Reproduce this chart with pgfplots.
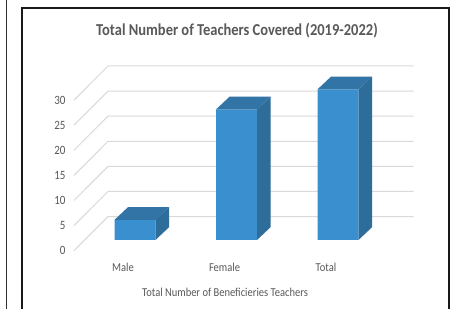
\documentclass[border=0pt]{standalone}
\usepackage{fontspec}
\setmainfont{Carlito}
\usepackage{graphicx}
\usepackage{pgfplots}
\pgfplotsset{compat=1.18}
\usepackage{pgfplotstable}
\definecolor{barfront}{HTML}{3A8FCF}
\definecolor{bartop}{HTML}{3274A6}
\definecolor{barside}{HTML}{2E6C9A}
\definecolor{gridc}{HTML}{D9D9D9}
\definecolor{txt}{HTML}{595959}
\newcommand\vs[1]{\scalebox{1}[1.15]{#1}}

\pgfplotstableread{
idx v
0 4
1 26
2 30
}\teachers

\pgfdeclareplotmark{cube3d}{%
  \pgfmathsetlengthmacro\barh{-\barv*5.02pt}%
  \pgfmathsetlengthmacro\barhb{12.7pt-\barv*5.02pt}%
  \pgfsetfillcolor{bartop}%
  \pgfpathmoveto{\pgfpoint{-20.5pt}{0pt}}%
  \pgfpathlineto{\pgfpoint{20.5pt}{0pt}}%
  \pgfpathlineto{\pgfpoint{34pt}{12.7pt}}%
  \pgfpathlineto{\pgfpoint{-7pt}{12.7pt}}%
  \pgfpathclose
  \pgfusepath{fill}%
  \pgfsetfillcolor{barside}%
  \pgfpathmoveto{\pgfpoint{20.5pt}{0pt}}%
  \pgfpathlineto{\pgfpoint{34pt}{12.7pt}}%
  \pgfpathlineto{\pgfpoint{34pt}{\barhb}}%
  \pgfpathlineto{\pgfpoint{20.5pt}{\barh}}%
  \pgfpathclose
  \pgfusepath{fill}%
}

\begin{document}
\begin{tikzpicture}
\clip (0pt,0pt) rectangle (455pt,308pt);
\useasboundingbox (0pt,0pt) rectangle (455pt,308pt);
\fill[white] (0pt,0pt) rectangle (455pt,308pt);
\draw[line width=1.5pt, black!80] (6.5pt,-3pt) -- (6.5pt,312pt);
\draw[line width=2pt, black!90] (22pt,-3pt) -- (22pt,300pt) -- (449pt,300pt) -- (449pt,-3pt);
\begin{axis}[
  at={(74pt,57.3pt)}, anchor=south west,
  x=101.5pt, y=5.02pt,
  xmin=-0.601, xmax=2.746, ymin=-2.14, ymax=34.66,
  clip=false,
  axis line style={draw=none},
  major tick length=0pt,
  tick style={draw=none},
  ytick={-2.14,2.86,7.86,12.86,17.86,22.86,27.86},
  yticklabels={\vs{0},\vs{5},\vs{10},\vs{15},\vs{20},\vs{25},\vs{30}},
  yticklabel style={font=\fontsize{11}{13}\selectfont, text=txt, xshift=-5pt},
  xtick={0,1,2},
  xticklabels={\vs{Male},\vs{Female},\vs{Total}},
  xticklabel style={font=\fontsize{10.5}{12}\selectfont, text=txt, xshift=-12pt, yshift=-9pt},
  title={\vs{\bfseries Total Number of Teachers Covered (2019-2022)}},
  title style={font=\fontsize{14.5}{17}\selectfont, text=txt, at={(axis description cs:0.4798,1.1787)}, anchor=center, yshift=-4pt},
  xlabel={\vs{Total Number of Beneficieries Teachers}},
  xlabel style={font=\fontsize{10.5}{12}\selectfont, text=txt, at={(axis description cs:0.4445,-0.2236)}, anchor=center},
]
\addplot[gridc, line width=1pt, unbounded coords=jump, forget plot] coordinates {
(-0.601,-2.14) (-0.266,4.66) (2.746,4.66) (nan,nan)
(-0.601,2.86) (-0.266,9.66) (2.746,9.66) (nan,nan)
(-0.601,7.86) (-0.266,14.66) (2.746,14.66) (nan,nan)
(-0.601,12.86) (-0.266,19.66) (2.746,19.66) (nan,nan)
(-0.601,17.86) (-0.266,24.66) (2.746,24.66) (nan,nan)
(-0.601,22.86) (-0.266,29.66) (2.746,29.66) (nan,nan)
(-0.601,27.86) (-0.266,34.66) (2.746,34.66)
};
\addplot[ybar, bar width=41pt, bar shift=0pt, fill=barfront, draw=none] table[x=idx, y=v]{\teachers};
\addplot[only marks, mark=cube3d, visualization depends on={\thisrow{v} \as \barv}] table[x=idx, y=v]{\teachers};
\end{axis}
\end{tikzpicture}
\end{document}
